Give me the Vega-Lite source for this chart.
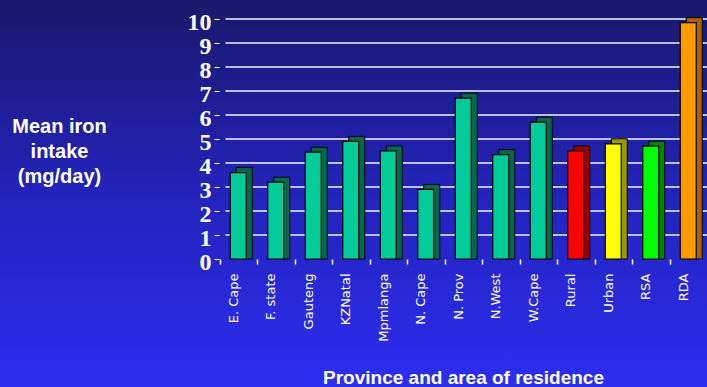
{
  "$schema": "https://vega.github.io/schema/vega-lite/v6.json",
  "width": 707,
  "height": 387,
  "autosize": {"type": "none"},
  "padding": 0,
  "background": "#2424c4",
  "config": {
    "view": {"stroke": null, "fill": {"gradient": "linear", "x1": 0, "y1": 0, "x2": 0, "y2": 1, "stops": [{"offset": 0, "color": "#19196c"}, {"offset": 0.5, "color": "#2323bc"}, {"offset": 1, "color": "#2d2df2"}]}},
    "axis": {"labelColor": "white", "titleColor": "white", "domainColor": "white", "tickColor": "white"}
  },
  "data": {"values": [
    {"area": "E. Cape", "group": "Province", "iron": 3.6},
    {"area": "F. state", "group": "Province", "iron": 3.2},
    {"area": "Gauteng", "group": "Province", "iron": 4.45},
    {"area": "KZNatal", "group": "Province", "iron": 4.9},
    {"area": "Mpmlanga", "group": "Province", "iron": 4.5},
    {"area": "N. Cape", "group": "Province", "iron": 2.9},
    {"area": "N. Prov", "group": "Province", "iron": 6.7},
    {"area": "N.West", "group": "Province", "iron": 4.35},
    {"area": "W.Cape", "group": "Province", "iron": 5.7},
    {"area": "Rural", "group": "Rural", "iron": 4.5},
    {"area": "Urban", "group": "Urban", "iron": 4.8},
    {"area": "RSA", "group": "RSA", "iron": 4.7},
    {"area": "RDA", "group": "RDA", "iron": 9.85}
  ]},
  "layer": [
    {
      "data": {"values": [{"g": 1}, {"g": 2}, {"g": 3}, {"g": 4}, {"g": 5}, {"g": 6}, {"g": 7}, {"g": 8}, {"g": 9}, {"g": 10}]},
      "mark": {"type": "rule", "color": "white", "strokeWidth": 1.6, "opacity": 0.95, "xOffset": 6},
      "encoding": {
        "x": {"datum": "E. Cape", "bandPosition": 0},
        "x2": {"value": "width"},
        "y": {"field": "g", "type": "quantitative"}
      }
    },
    {
      "data": {"values": [{}]},
      "mark": {"type": "rule", "color": "white", "strokeWidth": 1.5},
      "encoding": {
        "x": {"datum": "E. Cape", "bandPosition": 0},
        "y": {"datum": 0},
        "y2": {"datum": 10}
      }
    },
    {
      "data": {"values": [{}]},
      "mark": {"type": "rule", "color": "white", "strokeWidth": 1, "xOffset": 6, "yOffset": -2},
      "encoding": {
        "x": {"datum": "E. Cape", "bandPosition": 0},
        "y": {"datum": 0},
        "y2": {"datum": 10}
      }
    },
    {
      "mark": {"type": "bar", "width": 16, "xOffset": 6, "yOffset": -5, "y2Offset": 0.01, "stroke": "black", "strokeWidth": 1},
      "encoding": {
        "y2": {"datum": 0},
        "color": {"field": "group", "type": "nominal", "legend": null,
          "scale": {"domain": ["Province", "Rural", "Urban", "RSA", "RDA"], "range": ["#006b4c", "#990000", "#999900", "#008800", "#a86400"]}}
      }
    },
    {
      "mark": {"type": "bar", "width": 16, "stroke": "black", "strokeWidth": 1.2},
      "encoding": {
        "y2": {"datum": 0},
        "color": {"field": "group", "type": "nominal", "legend": null,
          "scale": {"domain": ["Province", "Rural", "Urban", "RSA", "RDA"], "range": ["#00cc99", "#ff0000", "#ffff00", "#00ff00", "#ff9900"]}}
      }
    },
    {
      "data": {"values": [{}]},
      "mark": {"type": "rule", "color": "#d0d0d8", "strokeWidth": 3, "yOffset": 2},
      "encoding": {
        "x": {"datum": "E. Cape", "bandPosition": 0},
        "x2": {"value": "width"},
        "y": {"datum": 0}
      }
    }
  ],
  "encoding": {
    "x": {
      "field": "area", "type": "nominal", "sort": null,
      "scale": {"domain": ["E. Cape", "F. state", "Gauteng", "KZNatal", "Mpmlanga", "N. Cape", "N. Prov", "N.West", "W.Cape", "Rural", "Urban", "RSA", "RDA"], "paddingInner": 0, "paddingOuter": 0, "range": [219.5, 707]},
      "axis": {
        "title": "Province and area of residence",
        "titleFont": "Liberation Sans", "titleFontSize": 19, "titleFontWeight": "bold",
        "titleX": 463, "titleAlign": "center",
        "titleY": 124, "titleBaseline": "alphabetic",
        "offset": -128, "domain": false,
        "labelAngle": -90, "labelFont": "DejaVu Sans", "labelFontSize": 13,
        "labelPadding": 9, "bandPosition": 0, "labelOffset": -5,
        "tickSize": 5, "tickWidth": 1.5, "tickOffset": 0
      }
    },
    "y": {
      "field": "iron", "type": "quantitative",
      "scale": {"domain": [-5.3333, 10.7917], "nice": false, "zero": false},
      "axis": {
        "values": [0, 1, 2, 3, 4, 5, 6, 7, 8, 9, 10],
        "offset": -219, "domain": false, "grid": false, "labelOverlap": false,
        "title": ["Mean iron", "intake", "(mg/day)"],
        "titleAngle": 0, "titleAlign": "center", "titleBaseline": "alphabetic",
        "titleX": -160, "titleY": 132, "titleLineHeight": 25,
        "titleFont": "Liberation Sans", "titleFontSize": 20, "titleFontWeight": "bold",
        "labelFont": "Liberation Serif", "labelFontSize": 24, "labelFontWeight": "bold",
        "labelPadding": 3, "labelOffset": 3,
        "tickSize": 5
      }
    }
  },
  "resolve": {"scale": {"color": "independent"}}
}
